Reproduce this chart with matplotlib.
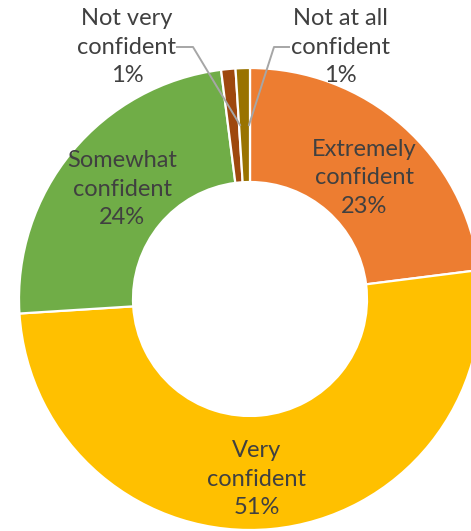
import matplotlib.pyplot as plt

# survey answers, clockwise from 12 o'clock
categorias = ["Extremely\nconfident", "Very\nconfident", "Somewhat\nconfident",
              "Not very\nconfident", "Not at all\nconfident"]
porcentajes = [23, 51, 24, 1, 1]
colores = ["#ED7D31", "#FFC000", "#70AD47", "#9E480E", "#997300"]

plt.rcParams["font.family"] = ["Lato", "DejaVu Sans"]

W, H = 471, 531
fig = plt.figure(figsize=(W / 100, H / 100), dpi=100)
ax = fig.add_axes([0, 0, 1, 1])

cx, cy = 250, H - 299
r_ext, r_int = 231, 117

ax.pie(porcentajes, colors=colores, startangle=90, counterclock=False,
       center=(cx, cy), radius=r_ext, frame=True,
       wedgeprops=dict(width=r_ext - r_int, edgecolor="white", linewidth=1.6))
ax.set_xlim(0, W)
ax.set_ylim(0, H)
ax.set_aspect("equal")
ax.axis("off")

texto = dict(ha="center", va="center", fontsize=17, color="#404040",
             linespacing=1.45, zorder=5)
posiciones = [(364, H - 178), (257, H - 479), (122, H - 189),
              (127, H - 47), (340, H - 47)]
for etiqueta, valor, (x, y) in zip(categorias, porcentajes, posiciones):
    ax.text(x, y, f"{etiqueta}\n{valor}%", **texto)

# leader lines for the two thin slices
gris = "#A6A6A6"
ax.plot([177, 193, 240], [H - 47, H - 47, H - 125], color=gris, lw=1.4, zorder=4)
ax.plot([289, 274, 249], [H - 47, H - 47, H - 125], color=gris, lw=1.4, zorder=4)

fig.savefig("out.png", dpi=100)
